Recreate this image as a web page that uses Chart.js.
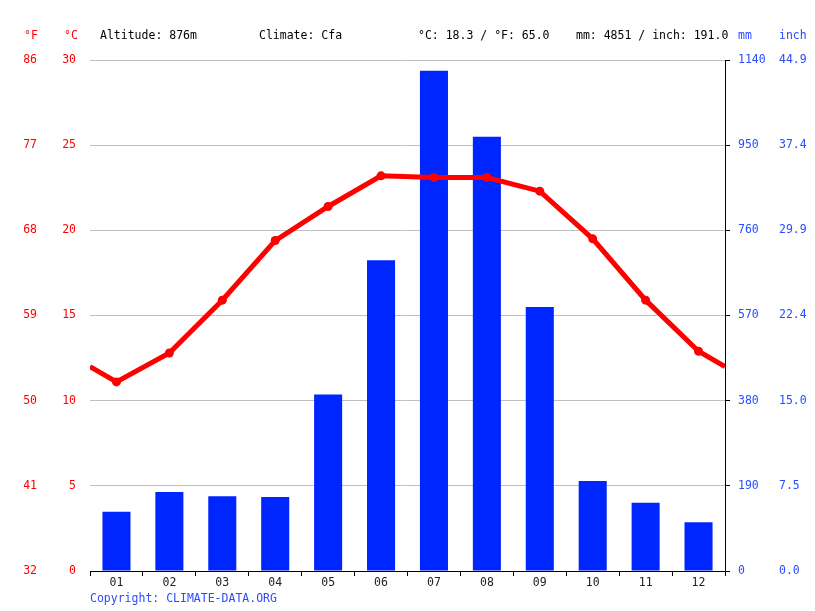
<!DOCTYPE html>
<html>
<head>
<meta charset="utf-8">
<script src="https://cdn.jsdelivr.net/npm/chart.js@4"></script>
<style>
  body { margin: 0; background: #fff; }
  canvas { display: block; }
</style>
</head>
<body>
<canvas id="climate" width="815" height="611"></canvas>
<script>
// monthly data
const months = ['01', '02', '03', '04', '05', '06', '07', '08', '09', '10', '11', '12'];
const tempC = [11.1, 12.8, 15.9, 19.4, 21.4, 23.2, 23.1, 23.1, 22.3, 19.5, 15.9, 12.9];
const precipMm = [132, 176, 167, 165, 394, 693, 1116, 969, 589, 201, 152, 109];
// value of the line where it leaves the plot on both sides (Dec -> Jan)
const tempEdge = [12.0, 12.0];

const tickC = [0, 5, 10, 15, 20, 25, 30];
const tickF = [32, 41, 50, 59, 68, 77, 86];
const tickMm = [0, 190, 380, 570, 760, 950, 1140];
const tickInch = ['0.0', '7.5', '15.0', '22.4', '29.9', '37.4', '44.9'];

const headerTexts = [
    { text: 'Altitude: 876m', x: 100 },
    { text: 'Climate: Cfa', x: 259 },
    { text: '°C: 18.3 / °F: 65.0', x: 418 },
    { text: 'mm: 4851 / inch: 191.0', x: 576 }
];

const FONT = '"DejaVu Sans Mono", monospace';
const RED = '#ff0000';
const BLUE = '#0026ff';
const LABEL_BLUE = '#2a4cff';

const linePoints = [{ x: 0.5, y: tempEdge[0] }]
    .concat(tempC.map((t, i) => ({ x: i + 1, y: t })))
    .concat([{ x: 12.5, y: tempEdge[1] }]);

const textPlugin = {
    id: 'texts',
    afterDraw: (chart) => {
        const ctx = chart.ctx;
        ctx.save();
        ctx.font = '11.5px ' + FONT;
        ctx.textBaseline = 'middle';
        ctx.textAlign = 'left';
        ctx.fillStyle = '#000';
        headerTexts.forEach(h => ctx.fillText(h.text, h.x, 36));
        ctx.fillStyle = RED;
        ctx.fillText('°F', 24, 36);
        ctx.fillText('°C', 64, 36);
        ctx.fillStyle = LABEL_BLUE;
        ctx.fillText('mm', 738, 36);
        ctx.fillText('inch', 779, 36);
        ctx.fillText('Copyright: CLIMATE-DATA.ORG', 90, 599);
        ctx.restore();
    }
};

const fixedWidth = (w) => (scale) => { scale.width = w; };

new Chart(document.getElementById('climate').getContext('2d'), {
    data: {
        labels: months,
        datasets: [
            {
                type: 'line',
                data: linePoints,
                xAxisID: 'xLine',
                yAxisID: 'yC',
                borderColor: RED,
                backgroundColor: RED,
                borderWidth: 5,
                pointRadius: linePoints.map((p, i) => (i === 0 || i === linePoints.length - 1) ? 0 : 4.5),
                pointBorderWidth: 0,
                tension: 0,
                order: 0
            },
            {
                type: 'bar',
                data: precipMm,
                xAxisID: 'x',
                yAxisID: 'yMm',
                backgroundColor: BLUE,
                grouped: false,
                barPercentage: 0.53,
                categoryPercentage: 1,
                order: 1
            }
        ]
    },
    options: {
        responsive: false,
        animation: false,
        layout: { padding: { top: 60, left: 0, right: 0, bottom: 0 } },
        plugins: {
            legend: { display: false },
            tooltip: { enabled: false }
        },
        scales: {
            x: {
                type: 'category',
                position: 'bottom',
                offset: true,
                afterFit: (scale) => { scale.height = 40; },
                grid: {
                    offset: true,
                    drawOnChartArea: false,
                    drawTicks: true,
                    tickLength: 5,
                    color: '#000'
                },
                border: { color: '#000', width: 1 },
                ticks: {
                    color: '#222',
                    padding: 0,
                    font: { family: FONT, size: 11.5 }
                }
            },
            xLine: {
                type: 'linear',
                display: false,
                min: 0.5,
                max: 12.5
            },
            yC: {
                type: 'linear',
                position: 'left',
                weight: 0,
                min: 0,
                max: 30,
                afterFit: fixedWidth(40),
                afterBuildTicks: (scale) => { scale.ticks = tickC.map(v => ({ value: v })); },
                grid: {
                    color: '#c0c0c0',
                    drawTicks: false
                },
                border: { display: false },
                ticks: {
                    color: RED,
                    padding: 14,
                    font: { family: FONT, size: 11.5 }
                }
            },
            yF: {
                type: 'linear',
                position: 'left',
                weight: 1,
                min: 0,
                max: 30,
                afterFit: fixedWidth(50),
                afterBuildTicks: (scale) => { scale.ticks = tickC.map(v => ({ value: v })); },
                grid: { display: false, drawTicks: false },
                border: { display: false },
                ticks: {
                    color: RED,
                    padding: 13,
                    font: { family: FONT, size: 11.5 },
                    callback: (v, i) => tickF[i]
                }
            },
            yMm: {
                type: 'linear',
                position: 'right',
                weight: 0,
                min: 0,
                max: 1140,
                afterFit: fixedWidth(45),
                afterBuildTicks: (scale) => { scale.ticks = tickMm.map(v => ({ value: v })); },
                grid: {
                    drawOnChartArea: false,
                    drawTicks: true,
                    tickLength: 5,
                    color: '#000'
                },
                border: { color: '#000', width: 1 },
                ticks: {
                    color: LABEL_BLUE,
                    padding: 8,
                    font: { family: FONT, size: 11.5 },
                    callback: (v, i) => String(tickMm[i])
                }
            },
            yIn: {
                type: 'linear',
                position: 'right',
                weight: 1,
                min: 0,
                max: 1140,
                afterFit: fixedWidth(45),
                afterBuildTicks: (scale) => { scale.ticks = tickMm.map(v => ({ value: v })); },
                grid: { display: false, drawTicks: false },
                border: { display: false },
                ticks: {
                    color: LABEL_BLUE,
                    padding: 9,
                    font: { family: FONT, size: 11.5 },
                    callback: (v, i) => tickInch[i]
                }
            }
        }
    },
    plugins: [textPlugin]
});
</script>
</body>
</html>
